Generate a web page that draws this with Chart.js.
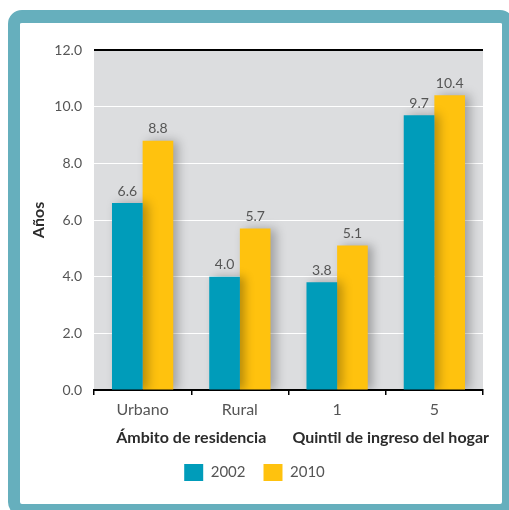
<!DOCTYPE html>
<html lang="es">
<head>
<meta charset="UTF-8">
<meta name="viewport" content="width=device-width, initial-scale=1.0">
<script src="https://cdn.jsdelivr.net/npm/chart.js"></script>
<title>Años de estudio</title>
<style>
  html, body { margin: 0; padding: 0; background: #fff; overflow: hidden; }
  #frame {
    position: absolute; left: 8px; top: 10px;
    width: 482px; height: 481px;
    border: 12px solid #66afbd; border-top-width: 13px;
    border-radius: 14px; background: #fff;
  }
  #wrap { position: absolute; left: 0; top: 0; width: 509px; height: 510px; }
</style>
</head>
<body>
<div id="frame"></div>
<div id="wrap"><canvas id="chart" width="509" height="510"></canvas></div>

<script>
// data
const categories = ['Urbano', 'Rural', '1', '5'];
const groupLabels = ['Ámbito de residencia', 'Quintil de ingreso del hogar'];
const seriesNames = ['2002', '2010'];
const values2002 = [6.6, 4.0, 3.8, 9.7];
const values2010 = [8.8, 5.7, 5.1, 10.4];
const yMin = 0, yMax = 12, yStep = 2;

const FONT = 'Lato, "Open Sans", sans-serif';
const TEAL = '#009cba';
const YELLOW = '#ffc20e';

// gray plot background
const plotBg = {
    id: 'plotBg',
    beforeDraw(chart) {
        const a = chart.chartArea, ctx = chart.ctx;
        ctx.save();
        ctx.fillStyle = '#dcdddf';
        ctx.fillRect(a.left, a.top, a.right - a.left, a.bottom - a.top);
        ctx.restore();
    }
};

// soft shadow to the right of the bars
const barShadow = {
    id: 'barShadow',
    beforeDatasetDraw(chart) {
        const ctx = chart.ctx;
        ctx.save();
        ctx.shadowColor = 'rgba(0,0,0,0.28)';
        ctx.shadowBlur = 10;
        ctx.shadowOffsetX = 5;
        ctx.shadowOffsetY = 0;
    },
    afterDatasetDraw(chart) {
        chart.ctx.restore();
    }
};

// value above each bar
const valueLabels = {
    id: 'valueLabels',
    afterDatasetsDraw(chart) {
        const ctx = chart.ctx;
        ctx.save();
        ctx.font = '14px ' + FONT;
        ctx.fillStyle = '#555';
        ctx.textAlign = 'center';
        ctx.textBaseline = 'bottom';
        chart.data.datasets.forEach((ds, i) => {
            chart.getDatasetMeta(i).data.forEach((bar, j) => {
                ctx.fillText(ds.data[j].toFixed(1), bar.x, bar.y - 5);
            });
        });
        ctx.restore();
    }
};

// bold group captions under pairs of categories
const groupCaptions = {
    id: 'groupCaptions',
    afterDraw(chart) {
        const ctx = chart.ctx, x = chart.scales.x;
        ctx.save();
        ctx.font = 'bold 16px ' + FONT;
        ctx.fillStyle = '#2b2b2b';
        ctx.textAlign = 'center';
        ctx.textBaseline = 'middle';
        groupLabels.forEach((g, k) => {
            const cx = (x.getPixelForValue(k * 2) + x.getPixelForValue(k * 2 + 1)) / 2;
            ctx.fillText(g, cx + k * 5, chart.chartArea.bottom + 48);
        });
        ctx.restore();
    }
};

new Chart(document.getElementById('chart'), {
    type: 'bar',
    data: {
        labels: categories,
        datasets: [
            { label: seriesNames[0], data: values2002, backgroundColor: TEAL, borderWidth: 0 },
            { label: seriesNames[1], data: values2010, backgroundColor: YELLOW, borderWidth: 0 }
        ]
    },
    options: {
        responsive: false,
        animation: false,
        events: [],
        barPercentage: 1.0,
        categoryPercentage: 0.63,
        layout: { padding: { top: 50, left: 26, right: 26, bottom: 19 } },
        plugins: {
            legend: {
                position: 'bottom',
                labels: {
                    boxWidth: 19,
                    boxHeight: 17,
                    padding: 18,
                    color: '#555',
                    font: { family: FONT, size: 15 }
                }
            },
            tooltip: { enabled: false }
        },
        scales: {
            x: {
                afterFit: (s) => { s.height = 56; },
                border: { display: true, color: '#000', width: 2 },
                grid: { drawOnChartArea: false, drawTicks: true, tickLength: 5, color: '#000', lineWidth: 1.5 },
                ticks: { color: '#555', padding: 5, font: { family: FONT, size: 16 } }
            },
            y: {
                min: yMin,
                max: yMax,
                afterFit: (s) => { s.width = 68; },
                border: { display: false },
                grid: {
                    drawTicks: false,
                    color: (c) => c.tick.value === yMax ? '#000' : (c.tick.value === yMin ? 'rgba(0,0,0,0)' : '#fff'),
                    lineWidth: (c) => c.tick.value === yMax ? 2 : 1
                },
                ticks: {
                    stepSize: yStep,
                    padding: 12,
                    color: '#555',
                    font: { family: FONT, size: 14 },
                    callback: (v) => v.toFixed(1)
                },
                title: {
                    display: true,
                    text: 'Años',
                    color: '#2b2b2b',
                    padding: { top: 3, bottom: 0 },
                    font: { family: FONT, size: 16, weight: 'bold' }
                }
            }
        }
    },
    plugins: [plotBg, barShadow, valueLabels, groupCaptions]
});
</script>
</body>
</html>
